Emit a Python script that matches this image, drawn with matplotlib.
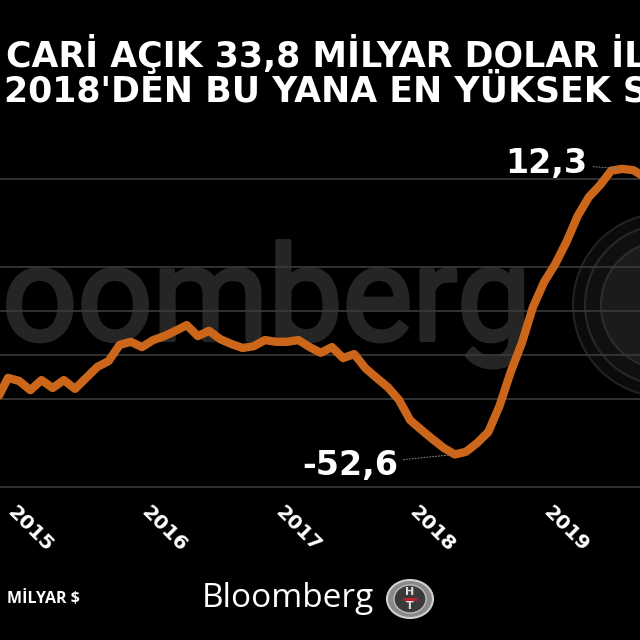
import matplotlib
matplotlib.use("Agg")
import matplotlib.pyplot as plt
import matplotlib.patheffects as pe
from matplotlib.patches import Ellipse
from matplotlib.transforms import ScaledTranslation

# 12 aylık cari denge, milyar $ (ay 0 = Ocak 2015)
months = list(range(-1, 58))
balance = [-40.2, -35.2, -35.9, -38.0, -35.7, -37.5, -35.7, -37.7, -35.2, -32.7,
           -31.4, -27.7, -27.0, -28.2, -26.6, -25.7, -24.5, -23.2, -25.7, -24.5,
           -26.4, -27.5, -28.4, -28.0, -26.6, -27.0, -27.0, -26.6, -28.2, -29.5,
           -28.2, -30.7, -29.8, -33.0, -35.2, -37.3, -40.2, -44.8, -47.0, -49.1,
           -51.1, -52.6, -52.0, -50.0, -47.5, -41.6, -33.9, -27.3, -19.1, -13.4,
           -9.3, -4.3, 1.6, 5.9, 8.6, 11.9, 12.3, 12.0, 10.4]
year_ticks = [0, 12, 24, 36, 48]
year_labels = ["2015", "2016", "2017", "2018", "2019"]
grid_vals = [10, -10, -20, -30, -40, -60]

title1 = "CARİ AÇIK 33,8 MİLYAR DOLAR İLE"
title2 = "2018'DEN BU YANA EN YÜKSEK SEVİYEDE"

W = 640.0
def fx(px):
    return px / W
def fy(py):
    return 1 - py / W

fig = plt.figure(figsize=(6.4, 6.4), dpi=100, facecolor="black")

# watermark behind the chart
wm = fig.text(fx(531), fy(340), "Bloomberg", family="Roboto", fontsize=95,
              color="#252525", ha="right", va="baseline", zorder=-2)
wm.set_path_effects([pe.withStroke(linewidth=3, foreground="#252525")])
for r, fc, ec in [(92, "#0b0b0b", "#222222"), (80, "#101010", "#282828"),
                  (64, "#1b1b1b", "#2c2c2c")]:
    fig.add_artist(Ellipse((fx(665), fy(305)), 2 * r / W, 2 * r / W,
                           transform=fig.transFigure, facecolor=fc,
                           edgecolor=ec, lw=1.5, zorder=-1))

ax = fig.add_axes([0, fy(487), 1, 352 / W])
ax.set_facecolor("none")
ax.set_xlim(-8 / 11.17, (W - 8) / 11.17)
ax.set_ylim(-60, 20)

for v in grid_vals:
    ax.axhline(v, color="#3a3a3a", lw=1.2, zorder=1, clip_on=False)

ax.plot(months, balance, color="#CC661A", lw=6, solid_joinstyle="round",
        solid_capstyle="round", zorder=3)

ax.annotate("12,3", xy=(55, 12.3), xytext=(48.2, 13.6), ha="center",
            va="center", fontsize=24, fontweight="bold", color="white",
            arrowprops=dict(arrowstyle="-", linestyle=":", color="#777777",
                            lw=0.8, shrinkA=2, shrinkB=4))
ax.annotate("-52,6", xy=(40, -52.6), xytext=(30.6, -55.0), ha="center",
            va="center", fontsize=24, fontweight="bold", color="white",
            arrowprops=dict(arrowstyle="-", linestyle=":", color="#777777",
                            lw=0.8, shrinkA=2, shrinkB=4))

ax.set_xticks(year_ticks)
ax.set_xticklabels(year_labels, rotation=-45, ha="left", rotation_mode="anchor",
                   fontsize=14.5, fontweight="bold", color="white")
ax.tick_params(axis="x", length=0, pad=11)
shift = ScaledTranslation(9 / 100, 0, fig.dpi_scale_trans)
for lbl in ax.get_xticklabels():
    lbl.set_transform(lbl.get_transform() + shift)
ax.set_yticks([])
for s in ax.spines.values():
    s.set_visible(False)

fig.text(fx(6), fy(67), title1, fontsize=25, fontweight="bold", color="white",
         ha="left", va="baseline")
fig.text(fx(4), fy(101), title2, fontsize=25, fontweight="bold", color="white",
         ha="left", va="baseline")

fig.text(fx(7), fy(603), "MİLYAR $", family="Open Sans", fontweight="bold",
         fontsize=11.5, color="white", ha="left", va="baseline")
fig.text(fx(202), fy(607), "Bloomberg", family="Open Sans", fontsize=24,
         color="white", ha="left", va="baseline")

# HT logo
fig.add_artist(Ellipse((fx(410), fy(599)), 46 / W, 38 / W, transform=fig.transFigure,
                       facecolor="#8a8a8a", edgecolor="#d0d0d0", lw=1.5))
fig.add_artist(Ellipse((fx(410), fy(599)), 32 / W, 28 / W, transform=fig.transFigure,
                       facecolor="#3a3a3a", edgecolor="#bbbbbb", lw=1))
fig.text(fx(410), fy(592), "H", fontsize=8, fontweight="bold", color="#dddddd",
         ha="center", va="center")
fig.text(fx(410), fy(606), "T", fontsize=8, fontweight="bold", color="#dddddd",
         ha="center", va="center")
fig.add_artist(plt.Line2D([fx(404), fx(416)], [fy(599), fy(599)],
                          transform=fig.transFigure, color="#c0202a", lw=2))

fig.savefig("out.png", dpi=100, facecolor="black")
